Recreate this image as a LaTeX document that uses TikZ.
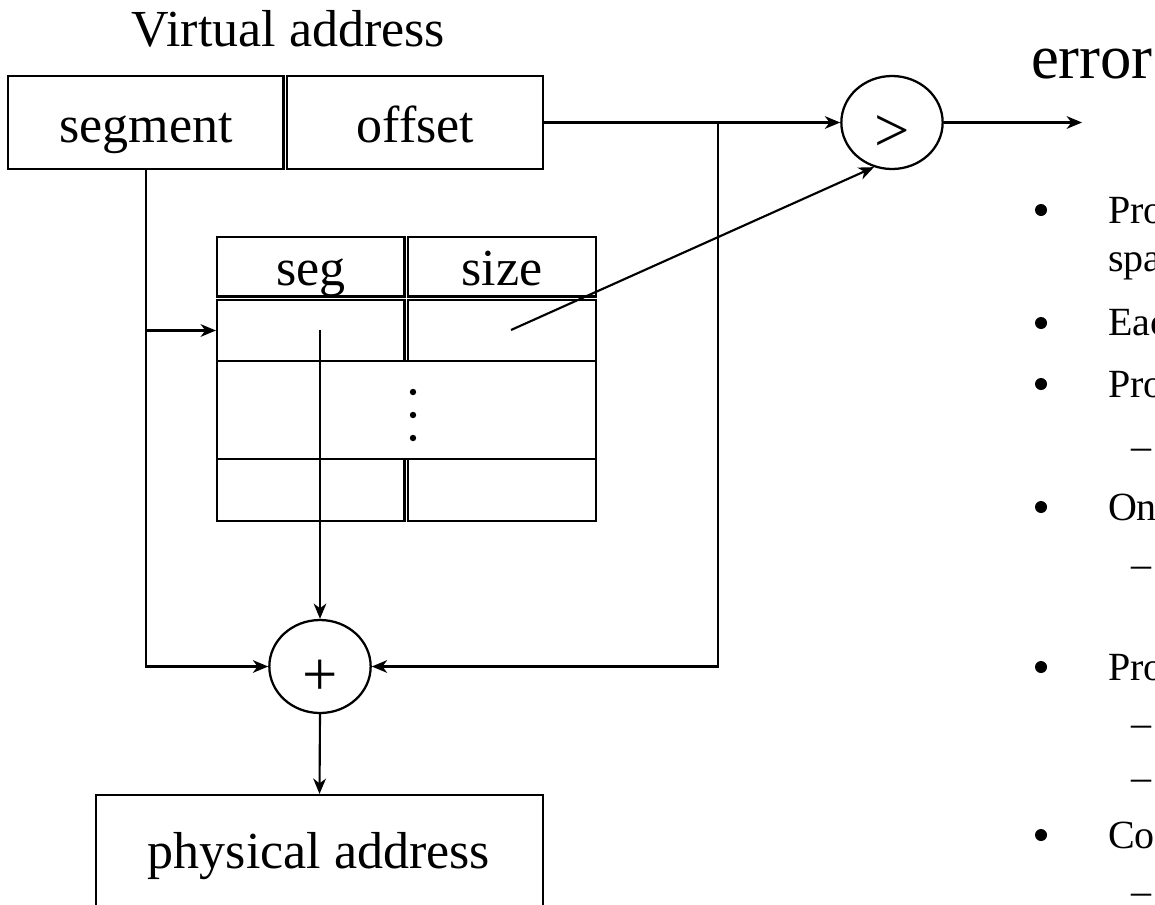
\documentclass[tikz,border=0pt]{standalone}
\usepackage{fontspec}
\setmainfont{Liberation Serif}
\usetikzlibrary{arrows.meta,shapes.geometric,fit}

\begin{document}
\begin{tikzpicture}[x=0.75pt,y=-0.75pt,
  line width=1.6pt,
  box/.style={draw,rectangle,inner sep=0pt,line width=1.6pt},
  op/.style={draw,ellipse,inner sep=0pt,minimum width=76pt,minimum height=69.75pt,line width=1.7pt},
  lbl/.style={anchor=base,inner sep=0pt,font=\fontsize{39pt}{39pt}\selectfont},
  sym/.style={anchor=base,inner sep=0pt,font=\fontsize{47pt}{47pt}\selectfont},
  item/.style={anchor=base west,inner sep=0pt,font=\fontsize{30pt}{30pt}\selectfont},
  bullet/.style={circle,fill,inner sep=0pt,minimum size=9pt},
  arr/.style={-{Stealth[length=11.5pt,width=9.5pt,inset=3.5pt]}},
]
\useasboundingbox (0,0) rectangle (1155,904);
\clip (0,0) rectangle (1155,904);

% virtual address: segment | offset
\node[lbl] (va) at (288.5,46.7) {Virtual address};
\node[box,fit={(8,76) (283.5,169)}] (segf) {};
\node[box,fit={(287,76) (543,169)}] (offf) {};
\node[lbl] (segt) at (146,142) {segment};
\node[lbl] (offt) at (415.5,142) {offset};

% segment table
\node[box,fit={(217,237) (404.5,296.5)}] (hdrL) {};
\node[box,fit={(408,237) (596,296.5)}] (hdrR) {};
\node[box,fit={(217,300) (404.5,361)}] (r1L) {};
\node[box,fit={(408,300) (596,361)}] (r1R) {};
\node[box,fit={(217,361) (596,459)}] (mid) {};
\node[box,fit={(217,459) (404.5,521)}] (lastL) {};
\node[box,fit={(408,459) (596,521)}] (lastR) {};
\node[lbl] (segh) at (311,285) {seg};
\node[lbl] (sizeh) at (502,285) {size};
\fill (413,392) circle (2.4pt) (413,415) circle (2.4pt) (413,438) circle (2.4pt);

% comparator and adder
\node[op] (gt) at (892,122.5) {};
\node[sym] (gtsym) at (892,151) {>};
\node[op] (plus) at (320,666.5) {};
\node[sym] (plussym) at (320,695) {+};

% error output
\node[anchor=base west,inner sep=0pt,font=\fontsize{47pt}{47pt}\selectfont] (err) at (1030,78) {error};
\coordinate (errend) at (1082,122.5);

% physical address
\node[box,fit={(96,795) (543,940)}] (phys) {};
\node[lbl] (physt) at (319,868) {physical address};

% connectors
\coordinate (tap) at (718,122.5);
\coordinate (tapdn) at (718,666.5);
\coordinate (segsrc) at (320,330);
\coordinate (sizesrc) at (511,330);
\draw[arr] (offf.east) -- (gt.west);
\draw[arr] (gt.east) -- (errend);
\draw[arr] (tap) -- (tapdn) -- (plus.east);
\draw[arr] (segf.south) -- (segf.south |- plus.west) -- (plus.west);
\draw[arr] (segf.south |- r1L.west) -- (r1L.west);
\draw[arr] (segsrc) -- (plus.north);
\draw[arr] (sizesrc) -- (gt.248);
\draw[arr] (plus.south) -- (phys.north);

% bullet list
\node[bullet] (b1) at (1041,210) {};
\node[bullet] (b2) at (1041,323) {};
\node[bullet] (b3) at (1041,384) {};
\node[bullet] (b4) at (1041,507) {};
\node[bullet] (b5) at (1041,667) {};
\node[bullet] (b6) at (1041,835) {};
\node[item] (t1) at (1107,223) {Pro};
\node[item] (t1b) at (1107,271) {spa};
\node[item] (t2) at (1107,335) {Eac};
\node[item] (t3) at (1107,397) {Pro};
\node[item] (t4) at (1107,520) {On};
\node[item] (t5) at (1107,680) {Pro};
\node[item] (t6) at (1107,848) {Co};
\node[item] (d1) at (1130,459) {–};
\node[item] (d2) at (1130,577) {–};
\node[item] (d3) at (1130,736) {–};
\node[item] (d4) at (1130,790) {–};
\node[item] (d5) at (1130,904) {–};
\end{tikzpicture}
\end{document}
